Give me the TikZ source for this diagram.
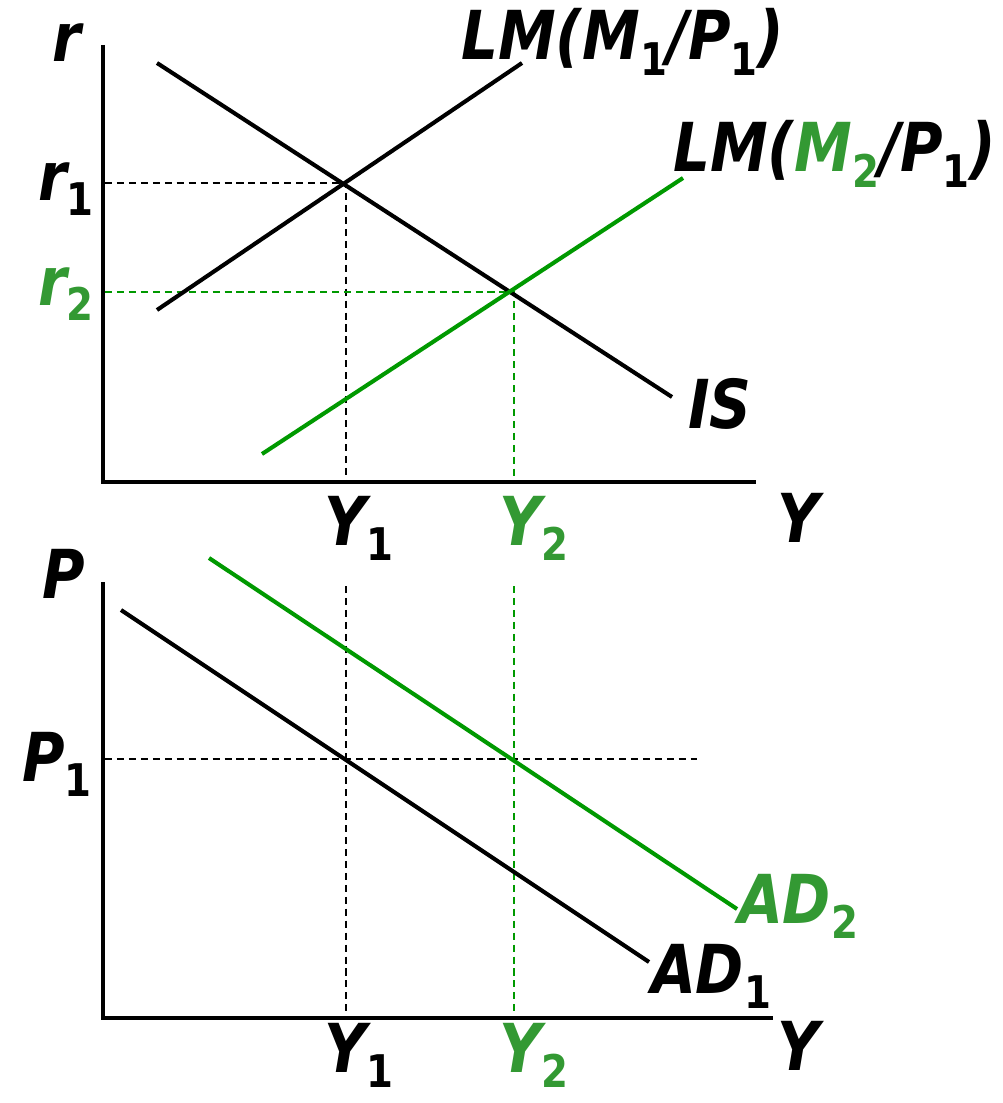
\documentclass[tikz,border=0pt]{standalone}
\usepackage{fontspec}
\setmainfont{DejaVu Sans}[FakeStretch=0.86]
\definecolor{shiftgreen}{HTML}{009900}
\definecolor{labelgreen}{HTML}{339933}
\newcommand{\lowsub}[1]{\raisebox{-11pt}{\fontsize{32}{32}\selectfont\upshape #1}}
\begin{document}
\begin{tikzpicture}[x=0.025cm, y=-0.025cm, line width=2.9pt,
	lbl/.style={anchor=base west, inner sep=0pt, font=\fontsize{48}{56}\selectfont\bfseries\itshape},
	guide/.style={line width=1.4pt, dash pattern=on 5pt off 3.5pt}]
	\useasboundingbox (0,0) rectangle (1003,1103);
	% axes
	\draw[line width=3.4pt] (103,45) -- (103,482) -- (756,482);
	\draw[line width=3.4pt] (103,582) -- (103,1018) -- (773,1018);
	% dashed guides
	\draw[guide] (105,183) -- (346,183) -- (346,480);
	\draw[guide, shiftgreen] (105,292) -- (514,292) -- (514,480);
	\draw[guide] (346,586) -- (346,1014);
	\draw[guide] (105,759) -- (697,759);
	\draw[guide, shiftgreen] (514,586) -- (514,1014);
	% IS-LM
	\draw (157,63) -- (672,397);
	\draw (157,310) -- (522,63);
	\draw[shiftgreen] (262,454) -- (683,178);
	% AD
	\draw (121,610) -- (649,962);
	\draw[shiftgreen] (209,558) -- (737,909);
	% labels
	\node[lbl] (rlab) at (50,62) {r};
	\node[lbl] (r1lab) at (36,200) {r\lowsub{1}};
	\node[lbl, text=labelgreen] (r2lab) at (36,305) {r\lowsub{2}};
	\node[lbl] (lm1lab) at (459,60) {LM(M\lowsub{1}/P\lowsub{1})};
	\node[lbl] (lm2lab) at (671,172) {LM(\textcolor{labelgreen}{M\lowsub{2}}/P\lowsub{1})};
	\node[lbl] (islab) at (686,428) {IS};
	\node[lbl] (ytop) at (775,542) {Y};
	\node[lbl] (y1top) at (322,545) {Y\lowsub{1}};
	\node[lbl, text=labelgreen] (y2top) at (497,545) {Y\lowsub{2}};
	\node[lbl] (plab) at (40,598) {P};
	\node[lbl] (p1lab) at (20,781) {P\lowsub{1}};
	\node[lbl, text=labelgreen] (ad2lab) at (736,923) {AD\lowsub{2}};
	\node[lbl] (ad1lab) at (649,993) {AD\lowsub{1}};
	\node[lbl] (ybot) at (775,1070) {Y};
	\node[lbl] (y1bot) at (322,1072) {Y\lowsub{1}};
	\node[lbl, text=labelgreen] (y2bot) at (497,1072) {Y\lowsub{2}};
\end{tikzpicture}
\end{document}
